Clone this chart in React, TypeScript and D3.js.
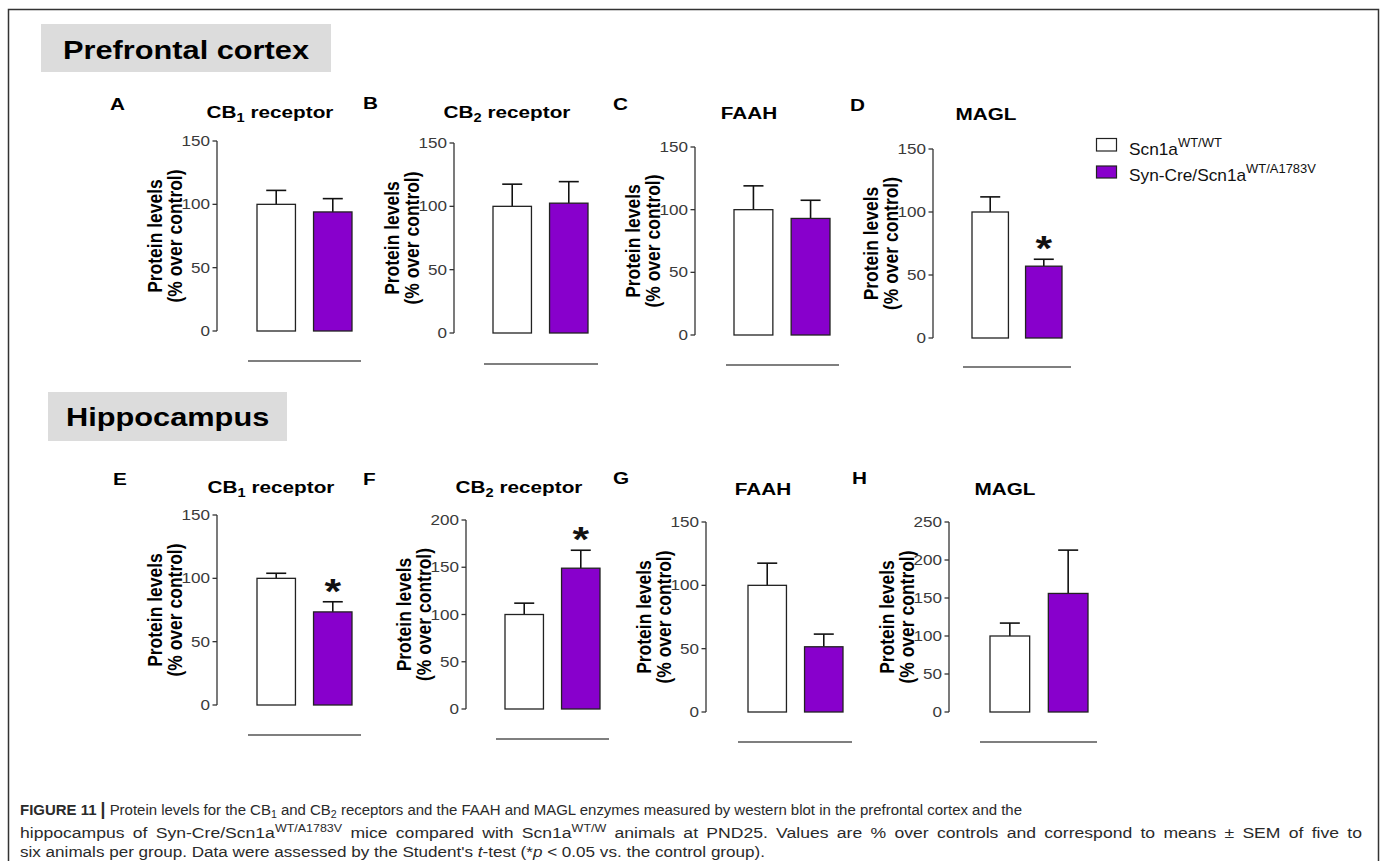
import React from 'react';
import * as d3 from 'd3';

// ---------- data ----------
const groups = ['Scn1aWT/WT', 'Syn-Cre/Scn1aWT/A1783V'];
const panelLetters = ['A', 'B', 'C', 'D', 'E', 'F', 'G', 'H'];
const titleMain = ['CB', 'CB', 'FAAH', 'MAGL', 'CB', 'CB', 'FAAH', 'MAGL'];
const titleSub = ['1', '2', '', '', '1', '2', '', ''];
const titleRest = [' receptor', ' receptor', '', '', ' receptor', ' receptor', '', ''];
const yMaxes = [150, 150, 150, 150, 150, 200, 150, 250];
const tickStep = 50;
const controlMeans = [100, 100, 100, 100, 100, 100, 100, 100];
const controlSem = [11, 17.5, 19, 12, 4, 12, 17.5, 17];
const mutantMeans = [94, 102.5, 93, 57, 73.5, 149, 51.5, 156];
const mutantSem = [10.5, 17, 14.5, 5.5, 8, 19, 10, 57];
const significant = [false, false, false, true, true, true, false, false];
const sectionTitles = ['Prefrontal cortex', 'Hippocampus'];
const yLabelLines = ['Protein levels', '(% over control)'];

// ---------- layout ----------
const layout = [
  { ax: 217, top: 141, bot: 331, b0: 257, b1: 352, ln0: 248, ln1: 361, lnY: 361, lx: 110, ly: 110, tx: 270, ty: 118 },
  { ax: 454, top: 143, bot: 333, b0: 493, b1: 588, ln0: 484, ln1: 598, lnY: 364, lx: 363, ly: 109, tx: 507, ty: 118 },
  { ax: 695, top: 147, bot: 335, b0: 734, b1: 830, ln0: 726, ln1: 839, lnY: 365, lx: 613, ly: 110, tx: 749, ty: 119 },
  { ax: 933, top: 149, bot: 338, b0: 972, b1: 1062, ln0: 963, ln1: 1071, lnY: 367, lx: 850, ly: 111, tx: 986, ty: 120 },
  { ax: 217, top: 515, bot: 705, b0: 257, b1: 352, ln0: 248, ln1: 361, lnY: 735, lx: 113, ly: 485, tx: 271, ty: 493 },
  { ax: 466, top: 520, bot: 709, b0: 505, b1: 600, ln0: 496, ln1: 609, lnY: 739, lx: 363, ly: 485, tx: 519, ty: 493 },
  { ax: 706, top: 522, bot: 712, b0: 748, b1: 843, ln0: 738, ln1: 852, lnY: 742, lx: 613, ly: 484, tx: 763, ty: 495 },
  { ax: 949, top: 522, bot: 712, b0: 990, b1: 1088, ln0: 980, ln1: 1097, lnY: 742, lx: 852, ly: 484, tx: 1005, ty: 495 },
];
const sections = [
  { x: 41, y: 24, w: 290, h: 48, tx: 63, ty: 59 },
  { x: 48, y: 392, w: 239, h: 49, tx: 66, ty: 426 },
];

const SX = 1.22;
const CAP_SX = 0.86;
const PURPLE = '#8800cc';
const FONT = "'Liberation Sans', Arial, Helvetica, sans-serif";
const colors = ['#ffffff', PURPLE];

function Panel({ i }: { i: number }) {
  const L = layout[i];
  const y = d3.scaleLinear().domain([0, yMaxes[i]]).range([L.bot, L.top]);
  const x = d3.scaleBand<string>().domain(groups).range([L.b0, L.b1]).paddingInner(0.32).paddingOuter(0);
  const ticks = d3.range(0, yMaxes[i] + 1, tickStep);
  const means = [controlMeans[i], mutantMeans[i]];
  const sems = [controlSem[i], mutantSem[i]];
  const bw = x.bandwidth();
  const yc = (L.top + L.bot) / 2;
  return (
    <g>
      <text transform={`translate(${L.lx},${L.ly}) scale(${SX},1)`} fontFamily={FONT} fontWeight="bold" fontSize={17} fill="#000">
        {panelLetters[i]}
      </text>
      <text transform={`translate(${L.tx},${L.ty}) scale(${SX},1)`} textAnchor="middle" fontFamily={FONT} fontWeight="bold" fontSize={17} fill="#000">
        <tspan>{titleMain[i]}</tspan>
        {titleSub[i] ? <tspan fontSize={12} dy={4}>{titleSub[i]}</tspan> : null}
        {titleRest[i] ? <tspan dy={titleSub[i] ? -4 : 0}>{titleRest[i]}</tspan> : null}
      </text>
      {yLabelLines.map((t, k) => (
        <text key={k} transform={`translate(${L.ax - 55 + k * 20},${yc}) scale(1.2,1) rotate(-90)`} textAnchor="middle"
          fontFamily={FONT} fontWeight="bold" fontSize={17.5} fill="#000">{t}</text>
      ))}
      <line x1={L.ax} x2={L.ax} y1={y(yMaxes[i])} y2={y(0)} stroke="#333" strokeWidth={1.3} />
      {ticks.map((t) => (
        <g key={t}>
          <line x1={L.ax - 4.5} x2={L.ax} y1={y(t)} y2={y(t)} stroke="#333" strokeWidth={1.3} />
          <text transform={`translate(${L.ax - 7},${y(t)}) scale(${SX},1)`} dy="0.36em" textAnchor="end"
            fontFamily={FONT} fontSize={14} fill="#3a3a3a">{t}</text>
        </g>
      ))}
      {groups.map((g, k) => {
        const bx = x(g) as number;
        const cx = bx + bw / 2;
        return (
          <g key={g}>
            <line x1={cx} x2={cx} y1={y(means[k])} y2={y(means[k] + sems[k])} stroke="#111" strokeWidth={1.6} />
            <line x1={cx - 10} x2={cx + 10} y1={y(means[k] + sems[k])} y2={y(means[k] + sems[k])} stroke="#111" strokeWidth={1.6} />
            <rect x={bx} y={y(means[k])} width={bw} height={y(0) - y(means[k])} fill={colors[k]} stroke="#222" strokeWidth={1.3} />
          </g>
        );
      })}
      {significant[i] ? (
        <text transform={`translate(${(x(groups[1]) as number) + bw / 2},${y(mutantMeans[i] + mutantSem[i]) - 19 + 20}) scale(${SX},1)`}
          textAnchor="middle" fontFamily={FONT} fontWeight="bold" fontSize={35} fill="#111">*</text>
      ) : null}
      <line x1={L.ln0} x2={L.ln1} y1={L.lnY} y2={L.lnY} stroke="#555" strokeWidth={1.5} />
    </g>
  );
}

export default function App() {
  return (
    <svg width={1380} height={861} style={{ position: 'absolute', left: 0, top: 0, background: '#fff' }}>
      <rect x={0} y={0} width={1380} height={861} fill="#fff" />
      <rect x={8.5} y={9.5} width={1370} height={900} fill="none" stroke="#333" strokeWidth={1.5} />
      {sections.map((s, k) => (
        <g key={k}>
          <rect x={s.x} y={s.y} width={s.w} height={s.h} fill="#dcdcdc" />
          <text transform={`translate(${s.tx},${s.ty}) scale(1.23,1)`} fontFamily={FONT} fontWeight="bold" fontSize={25} fill="#000">
            {sectionTitles[k]}
          </text>
        </g>
      ))}
      {layout.map((_, i) => <Panel key={i} i={i} />)}
      {/* legend */}
      <g>
        <rect x={1096.5} y={138.5} width={20} height={12.5} fill="#fff" stroke="#222" strokeWidth={1.2} />
        <rect x={1096.5} y={166} width={20} height={12} fill={PURPLE} stroke="#222" strokeWidth={1.2} />
        <text transform={`translate(1129,155) scale(1.08,1)`} fontFamily={FONT} fontSize={16} fill="#111">
          <tspan>Scn1a</tspan><tspan fontSize={12} dy={-8}>WT/WT</tspan>
        </text>
        <text transform={`translate(1129,181) scale(1.08,1)`} fontFamily={FONT} fontSize={16} fill="#111">
          <tspan>Syn-Cre/Scn1a</tspan><tspan fontSize={12} dy={-8}>WT/A1783V</tspan>
        </text>
      </g>
      {/* caption */}
      <g transform={`translate(20,0) scale(${CAP_SX},1)`} fontFamily={FONT} fontSize={15.5} fill="#2a2a2a">
        <text x={0} y={815} textLength={1002 / CAP_SX} lengthAdjust="spacingAndGlyphs">
          <tspan fontWeight="bold">FIGURE 11 </tspan><tspan fontWeight="bold" fontSize={18}>|</tspan>
          <tspan> Protein levels for the CB</tspan><tspan fontSize={11} dy={3}>1</tspan>
          <tspan dy={-3}> and CB</tspan><tspan fontSize={11} dy={3}>2</tspan>
          <tspan dy={-3}> receptors and the FAAH and MAGL enzymes measured by western blot in the prefrontal cortex and the</tspan>
        </text>
        <text x={0} y={838} wordSpacing={3} textLength={1342 / CAP_SX} lengthAdjust="spacingAndGlyphs">
          <tspan>hippocampus of Syn-Cre/Scn1a</tspan><tspan fontSize={11} dy={-6}>WT/A1783V</tspan>
          <tspan dy={6}> mice compared with Scn1a</tspan><tspan fontSize={11} dy={-6}>WT/W</tspan>
          <tspan dy={6}> animals at PND25. Values are % over controls and correspond to means ± SEM of five to</tspan>
        </text>
        <text x={0} y={857} textLength={745 / CAP_SX} lengthAdjust="spacingAndGlyphs">
          <tspan>six animals per group. Data were assessed by the Student's </tspan><tspan fontStyle="italic">t</tspan>
          <tspan>-test (*</tspan><tspan fontStyle="italic">p</tspan><tspan> &lt; 0.05 vs. the control group).</tspan>
        </text>
      </g>
    </svg>
  );
}
